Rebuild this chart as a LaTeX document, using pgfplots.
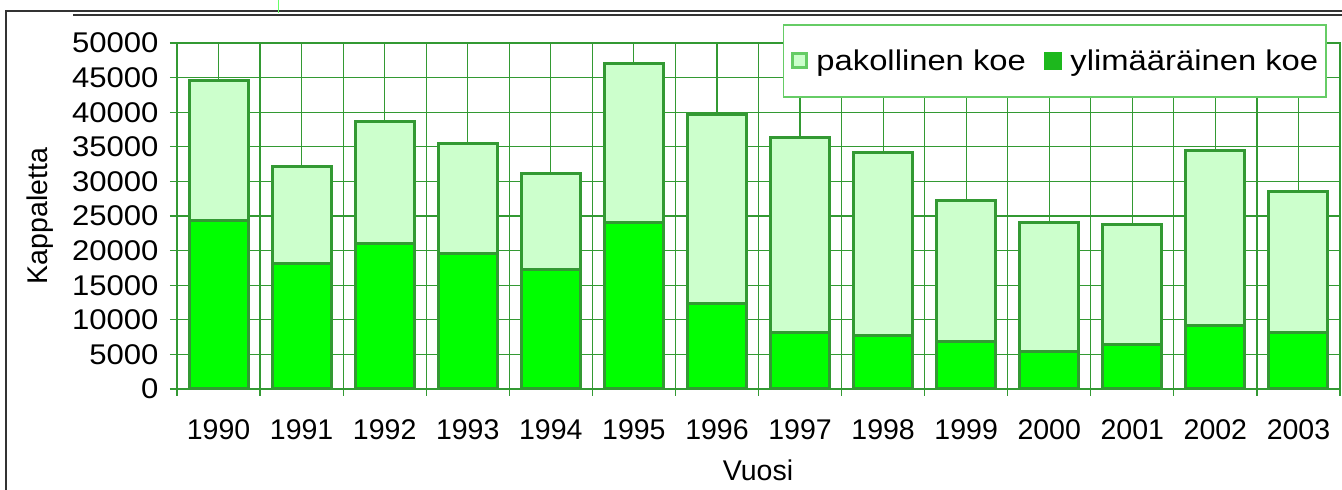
\documentclass[border=0pt]{standalone}
\usepackage{fontspec}
\setmainfont{Liberation Sans}
\newfontfamily\legfont[FakeStretch=1.15]{Liberation Sans}
\newfontfamily\tickfont[FakeStretch=1.09]{Liberation Sans}
\usepackage{pgfplots}
\usepackage{pgfplotstable}
\pgfplotsset{compat=1.18}
\definecolor{barline}{HTML}{339933}
\definecolor{gridgreen}{HTML}{339933}
\definecolor{ylimcol}{HTML}{00FF00}
\definecolor{pakolcol}{HTML}{CCFFCC}
\definecolor{legbox}{HTML}{66CC66}
\definecolor{legdark}{HTML}{1DB81D}

% x ylim pakol (pakol = total - ylim)
\pgfplotstableread{
x year ylim pakol
0  1990 24400 20250
1  1991 18200 13900
2  1992 21000 17700
3  1993 19650 15850
4  1994 17200 13900
5  1995 24100 22900
6  1996 12300 27300
7  1997  8200 28100
8  1998  7700 26500
9  1999  6800 20500
10 2000  5350 18750
11 2001  6500 17300
12 2002  9200 25300
13 2003  8200 20400
}\data

\newcommand{\bigfont}{\fontsize{28.5}{31}\selectfont}

\begin{document}
\begin{tikzpicture}
\begin{axis}[
    at={(177pt,101pt)}, anchor=south west,
    scale only axis, width=1163pt, height=346pt,
    ybar stacked, bar width=0.71,
    xmin=-0.5, xmax=13.5, ymin=0, ymax=50000,
    ytick={0,5000,...,50000},
    xtick={-0.5,0.5,...,13.5},
    xticklabels={},
    extra x ticks={0,...,13},
    extra x tick labels={1990,1991,1992,1993,1994,1995,1996,1997,1998,1999,2000,2001,2002,2003},
    extra x tick style={grid=major, major tick length=0pt,
        xticklabel style={yshift=-27pt}},
    grid=major,
    major grid style={gridgreen, line width=1.2pt},
    axis line style={gridgreen, line width=1.2pt},
    tick align=outside, tick pos=left,
    major tick length=7pt,
    tick style={gridgreen, line width=1.2pt},
    scaled y ticks=false,
    /pgf/number format/1000 sep={},
    /pgf/number format/assume math mode=true,
    tick label style={font=\bigfont},
    yticklabel style={xshift=-8pt, font=\tickfont\bigfont},
    legend style={
        at={(0.98882,1.05491)}, anchor=north east,
        legend columns=2,
        draw=legbox, line width=1.5pt,
        font=\legfont\bigfont,
        inner xsep=8pt, inner ysep=25pt,
        nodes={inner sep=0pt},
        /tikz/every odd column/.append style={column sep=8pt},
        /tikz/every even column/.append style={column sep=18pt},
    },
    legend cell align=left,
]
\addplot[fill=ylimcol, draw=barline, line width=3pt, forget plot] table[x=x, y=ylim]{\data};
\addplot[fill=pakolcol, draw=barline, line width=3pt, forget plot] table[x=x, y=pakol]{\data};
\addlegendimage{legend image code/.code={
    \draw[draw=legbox, fill=pakolcol, line width=3pt] (1.5pt,-7pt) rectangle (15.5pt,7pt);}}
\addlegendentry{pakollinen koe}
\addlegendimage{legend image code/.code={
    \fill[legdark] (0pt,-8.5pt) rectangle (17pt,8.5pt);}}
\addlegendentry{ylimääräinen koe}
\end{axis}
\node[rotate=90, font=\bigfont] at (40pt,274pt) {Kappaletta};
\node[font=\bigfont] at (758pt,20pt) {Vuosi};
\draw[black!80, line width=2.5pt] (6pt,0pt) |- (1342pt,479pt);
\draw[black!80, line width=2pt] (73pt,475pt) -- (1342pt,475pt);
\draw[green!60, line width=1pt] (278pt,477pt) -- (278pt,490pt);
\pgfresetboundingbox
\path[use as bounding box] (0,0) rectangle (1342pt,490pt);
\end{tikzpicture}
\end{document}
